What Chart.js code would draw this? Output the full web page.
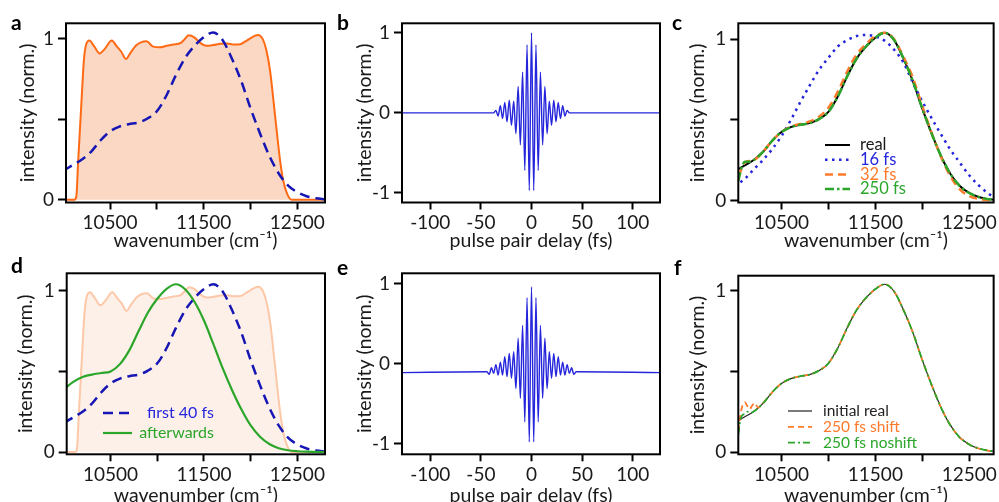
<!DOCTYPE html>
<html>
<head>
<meta charset="utf-8">
<script src="https://cdn.jsdelivr.net/npm/chart.js@4.4.1/dist/chart.umd.min.js"></script>
<style>
  body { margin: 0; width: 999px; height: 502px; overflow: hidden; background: #fff; position: relative; }
  canvas { position: absolute; }
</style>
</head>
<body>
<canvas id="chartA" width="333" height="251" style="left:0px;top:0px"></canvas>
<canvas id="chartB" width="333" height="251" style="left:333px;top:0px"></canvas>
<canvas id="chartC" width="333" height="251" style="left:666px;top:0px"></canvas>
<canvas id="chartD" width="333" height="251" style="left:0px;top:251px"></canvas>
<canvas id="chartE" width="333" height="251" style="left:333px;top:251px"></canvas>
<canvas id="chartF" width="333" height="251" style="left:666px;top:251px"></canvas>
<script>
// Laser spectrum (orange, panels a and d)
const laserWavenumber = [10000, 10120, 10140, 10160, 10180, 10200, 10220, 10245, 10280, 10330,
  10390, 10440, 10520, 10570, 10620, 10670, 10720, 10780, 10830, 10890,
  10960, 11030, 11105, 11180, 11250, 11300, 11340, 11400, 11460, 11530,
  11600, 11680, 11750, 11820, 11890, 11960, 12030, 12080, 12130, 12170,
  12210, 12245, 12280, 12315, 12350, 12390, 12440, 12800];
const laserIntensity = [0, 0, 0.02, 0.24, 0.45, 0.66, 0.86, 0.965, 0.99, 0.955,
  0.91, 0.935, 0.99, 0.955, 0.92, 0.875, 0.915, 0.96, 0.978, 0.985,
  0.952, 0.948, 0.957, 0.965, 0.973, 1.0, 1.022, 1.01, 0.977, 0.958,
  0.962, 0.97, 0.972, 0.965, 0.967, 0.99, 1.014, 1.025, 1.0, 0.93,
  0.80, 0.62, 0.43, 0.25, 0.12, 0.04, 0, 0];

// Real spectrum (blue dashed in a/d, black in c/f)
const realWavenumber = [10000, 10100, 10200, 10300, 10400, 10500, 10600, 10700, 10800, 10900,
  11000, 11100, 11200, 11300, 11400, 11500, 11600, 11700, 11800, 11900,
  12000, 12100, 12200, 12300, 12400, 12500, 12600, 12700, 12800];
const realIntensity = [0.18, 0.215, 0.25, 0.30, 0.37, 0.425, 0.455, 0.47, 0.48, 0.505,
  0.55, 0.645, 0.77, 0.88, 0.955, 1.01, 1.04, 0.995, 0.88, 0.74,
  0.57, 0.415, 0.275, 0.165, 0.09, 0.047, 0.022, 0.009, 0.003];

// Retrieved spectra (panel c)
const fit16Intensity = [0.09, 0.13, 0.19, 0.25, 0.318, 0.40, 0.50, 0.61, 0.713, 0.81,
  0.885, 0.955, 0.995, 1.02, 1.027, 1.018, 0.99, 0.935, 0.855, 0.73,
  0.615, 0.51, 0.41, 0.315, 0.235, 0.157, 0.095, 0.045, 0.01];
const fit32Wavenumber = [10040, 10070, 10110, 10160, 10220, 10300, 10400, 10500, 10600, 10700,
  10800, 10900, 11000, 11100, 11200, 11300, 11400, 11500, 11600, 11700,
  11800, 11900, 12000, 12100, 12200, 12300, 12400, 12500, 12600, 12700, 12800];
const fit32Intensity = [0.15, 0.19, 0.235, 0.245, 0.255, 0.30, 0.37, 0.425, 0.46, 0.475,
  0.49, 0.52, 0.575, 0.675, 0.80, 0.905, 0.97, 1.02, 1.04, 1.0,
  0.89, 0.76, 0.585, 0.42, 0.27, 0.15, 0.07, 0.028, 0.01, 0.003, 0.001];
const fit250Wavenumber = [10040, 10060, 10085, 10110, 10150, 10200, 10300, 10400, 10500, 10600,
  10700, 10800, 10900, 11000, 11100, 11200, 11300, 11400, 11500, 11600,
  11700, 11800, 11900, 12000, 12100, 12200, 12300, 12400, 12500, 12600, 12700, 12800];
const fit250Intensity = [0.12, 0.17, 0.22, 0.24, 0.24, 0.25, 0.30, 0.37, 0.425, 0.455,
  0.47, 0.48, 0.505, 0.55, 0.645, 0.77, 0.88, 0.955, 1.01, 1.04,
  0.995, 0.88, 0.74, 0.57, 0.415, 0.275, 0.165, 0.09, 0.047, 0.022, 0.009, 0.003];

// Spectrum after the first 40 fs (green, panel d)
const afterIntensity = [0.39, 0.435, 0.465, 0.48, 0.49, 0.50, 0.545, 0.63, 0.75, 0.865,
  0.95, 1.012, 1.04, 1.008, 0.93, 0.815, 0.67, 0.52, 0.385, 0.265,
  0.165, 0.095, 0.05, 0.024, 0.011, 0.005, 0.002, 0.001, 0];

// Panel f, shift / noshift retrievals
const shiftWavenumber = [10040, 10060, 10085, 10110, 10135, 10160, 10190, 10215, 10250, 10300,
  10400, 10500, 10600, 10700, 10800, 10900, 11000, 11100, 11200, 11300,
  11400, 11500, 11600, 11700, 11800, 11900, 12000, 12100, 12200, 12300,
  12400, 12500, 12600, 12700, 12800];
const shiftIntensity = [0.13, 0.22, 0.29, 0.31, 0.285, 0.265, 0.29, 0.305, 0.275, 0.30,
  0.37, 0.425, 0.455, 0.47, 0.48, 0.505, 0.55, 0.645, 0.77, 0.88,
  0.955, 1.01, 1.04, 0.995, 0.88, 0.74, 0.57, 0.415, 0.275, 0.165,
  0.09, 0.047, 0.022, 0.009, 0.003];
const noshiftWavenumber = [10040, 10060, 10085, 10110, 10140, 10170, 10200, 10300, 10400, 10500,
  10600, 10700, 10800, 10900, 11000, 11100, 11200, 11300, 11400, 11500,
  11600, 11700, 11800, 11900, 12000, 12100, 12200, 12300, 12400, 12500,
  12600, 12700, 12800];
const noshiftIntensity = [0.11, 0.19, 0.23, 0.235, 0.25, 0.245, 0.25, 0.30, 0.37, 0.425,
  0.455, 0.47, 0.48, 0.505, 0.55, 0.645, 0.77, 0.88, 0.955, 1.01,
  1.04, 0.995, 0.88, 0.74, 0.57, 0.415, 0.275, 0.165, 0.09, 0.047,
  0.022, 0.009, 0.003];

// Interferograms (panels b and e), one value per oscillation extremum
const delay = [-128, -44.0, -41.8, -39.6, -37.4, -35.2, -33.0, -30.8, -28.6, -26.4,
  -24.2, -22.0, -19.8, -17.6, -15.4, -13.2, -11.0, -8.8, -6.6, -4.4,
  -2.2, 0, 2.2, 4.4, 6.6, 8.8, 11.0, 13.2, 15.4, 17.6,
  19.8, 22.0, 24.2, 26.4, 28.6, 30.8, 33.0, 35.2, 37.4, 39.6,
  41.8, 44.0, 127];
const signalB = [0, 0, 0, 0, 0, 0.03, -0.04, 0.09, -0.07, 0.13,
  -0.11, 0.16, -0.155, 0.145, -0.26, 0.33, -0.40, 0.51, -0.72, 0.85,
  -0.97, 1.0, -0.97, 0.85, -0.72, 0.51, -0.40, 0.33, -0.26, 0.145,
  -0.155, 0.16, -0.11, 0.13, -0.07, 0.09, -0.04, 0.03, 0, 0,
  0, 0, 0];
const signalE = [-0.11, -0.10, -0.13, -0.05, -0.12, -0.01, -0.14, 0.02, -0.14, 0.09,
  -0.16, 0.13, -0.18, 0.15, -0.31, 0.32, -0.43, 0.48, -0.725, 0.825,
  -0.975, 0.96, -0.975, 0.825, -0.725, 0.48, -0.43, 0.32, -0.31, 0.15,
  -0.18, 0.13, -0.16, 0.09, -0.14, 0.02, -0.14, -0.01, -0.12, -0.05,
  -0.13, -0.10, -0.11];

// Ticks
const spectrumTicks = [10500, 11000, 11500, 12000, 12500];
const spectrumTickLabels = ['10500', '', '11500', '', '12500'];
const delayTicks = [-100, -50, 0, 50, 100];
const delayTickLabels = ['-100', '-50', '0', '50', '100'];
const intensityTicks = [0, 0.5, 1];
const intensityTickLabels = ['0', '', '1'];
const signalTicks = [-1, 0, 1];
const signalTickLabels = ['-1', '0', '1'];

const FONT = 'Lato';
const TEXT = '#1a1a1a';
Chart.defaults.font.family = FONT;
Chart.defaults.color = TEXT;

function points(xs, ys) {
  return xs.map((x, i) => ({ x: x, y: ys[i] }));
}

// Black box around the plot area
const framePlugin = {
  id: 'frame',
  afterDatasetsDraw(chart) {
    const ctx = chart.ctx, a = chart.chartArea;
    ctx.save();
    ctx.strokeStyle = '#000';
    ctx.lineWidth = 2;
    ctx.strokeRect(a.left, a.top, a.right - a.left, a.bottom - a.top);
    ctx.restore();
  }
};

// Panel letter and legend drawn inside the plot
const panelPlugin = {
  id: 'panel',
  afterDraw(chart, args, opts) {
    const ctx = chart.ctx;
    ctx.save();
    ctx.fillStyle = '#000';
    ctx.font = 'bold 21px ' + FONT;
    ctx.textBaseline = 'alphabetic';
    ctx.textAlign = 'left';
    ctx.fillText(opts.letter, opts.letterX, opts.letterY);
    if (opts.legend) {
      const lg = opts.legend;
      ctx.font = lg.size + 'px ' + FONT;
      ctx.textBaseline = 'middle';
      lg.items.forEach((idx, i) => {
        const ds = chart.data.datasets[idx];
        const y = lg.y + i * lg.rowGap;
        ctx.strokeStyle = ds.borderColor;
        ctx.lineWidth = ds.borderWidth;
        ctx.setLineDash(ds.borderDash || []);
        ctx.beginPath();
        ctx.moveTo(lg.x, y);
        ctx.lineTo(lg.x + lg.lineLength, y);
        ctx.stroke();
        ctx.setLineDash([]);
        ctx.fillStyle = ds.textColor || ds.borderColor;
        ctx.textAlign = lg.align;
        ctx.fillText(ds.label, lg.textX, y);
      });
    }
    ctx.restore();
  }
};

function makeChart(id, datasets, p) {
  const tickFont = { family: FONT, size: 19 };
  const titleFont = { family: FONT, size: 19.5, lineHeight: 1 };
  return new Chart(document.getElementById(id), {
    type: 'line',
    data: { datasets: datasets },
    options: {
      responsive: false,
      animation: false,
      devicePixelRatio: 1,
      layout: { padding: { top: p.top, right: p.right, bottom: 0, left: 0 } },
      elements: { point: { radius: 0 }, line: { cubicInterpolationMode: 'monotone' } },
      scales: {
        x: {
          type: 'linear', min: p.xMin, max: p.xMax,
          afterFit: s => { s.height = p.xAxisHeight; },
          afterBuildTicks: s => { s.ticks = p.xTicks.map(v => ({ value: v })); },
          border: { display: false },
          grid: { drawOnChartArea: false, drawTicks: true, tickLength: 7, tickWidth: 2, tickColor: '#000' },
          ticks: { font: tickFont, color: TEXT, padding: 2, autoSkip: false, maxRotation: 0,
            callback: (v, i) => p.xLabels[i] },
          title: { display: true, text: p.xTitle, font: titleFont, color: TEXT,
            padding: { top: 0, bottom: p.xTitlePad } }
        },
        y: {
          type: 'linear', min: p.yMin, max: p.yMax,
          afterFit: s => { s.width = p.yAxisWidth; },
          afterBuildTicks: s => { s.ticks = p.yTicks.map(v => ({ value: v })); },
          border: { display: false },
          grid: { drawOnChartArea: false, drawTicks: true, tickLength: 8, tickWidth: 2, tickColor: '#000' },
          ticks: { font: tickFont, color: TEXT, padding: 4, autoSkip: false,
            callback: (v, i) => p.yLabels[i] },
          title: { display: true, text: 'intensity (norm.)', font: titleFont, color: TEXT,
            padding: { top: p.yTitlePad, bottom: 0 } }
        }
      },
      plugins: {
        legend: { display: false },
        tooltip: { enabled: false },
        panel: { letter: p.letter, letterX: p.letterX, letterY: p.letterY, legend: p.legend }
      }
    },
    plugins: [framePlugin, panelPlugin]
  });
}

const ORANGE = '#ff6a14';
const BLUE_DARK = '#1616b4';
const BLUE = '#2525dc';
const GREEN = '#2ba62b';
const WN = 'wavenumber (cm\u207B\u00B9)';

// a
makeChart('chartA', [
  { label: 'laser', data: points(laserWavenumber, laserIntensity), borderColor: ORANGE, borderWidth: 2,
    backgroundColor: '#fbd8c3', fill: 'origin', order: 2 },
  { label: 'real', data: points(realWavenumber, realIntensity), borderColor: BLUE_DARK, borderWidth: 2.5,
    borderDash: [10, 6], order: 1 }
], { top: 23.3, right: 8, yAxisWidth: 66, xAxisHeight: 48.5, xMin: 10030, xMax: 12796, yMin: -0.017, yMax: 1.097,
  xTicks: spectrumTicks, xLabels: spectrumTickLabels, yTicks: intensityTicks, yLabels: intensityTickLabels,
  xTitle: WN, xTitlePad: 1, yTitlePad: 17.5, letter: 'a', letterX: 11, letterY: 30 });

// b
makeChart('chartB', [
  { label: 'interferogram', data: points(delay, signalB), borderColor: BLUE, borderWidth: 1.4 }
], { top: 23.3, right: 6, yAxisWidth: 69, xAxisHeight: 48.5, xMin: -128, xMax: 127, yMin: -1.12, yMax: 1.12,
  xTicks: delayTicks, xLabels: delayTickLabels, yTicks: signalTicks, yLabels: signalTickLabels,
  xTitle: 'pulse pair delay (fs)', xTitlePad: 1, yTitlePad: 22, letter: 'b', letterX: 4, letterY: 30 });

// c
makeChart('chartC', [
  { label: 'real', data: points(realWavenumber, realIntensity), borderColor: '#000', borderWidth: 2, textColor: TEXT, order: 4 },
  { label: '16 fs', data: points(realWavenumber, fit16Intensity), borderColor: BLUE, borderWidth: 2.5,
    borderDash: [2.5, 4.5], order: 3 },
  { label: '32 fs', data: points(fit32Wavenumber, fit32Intensity), borderColor: '#ff7a2a', borderWidth: 2.5,
    borderDash: [8, 5], order: 2 },
  { label: '250 fs', data: points(fit250Wavenumber, fit250Intensity), borderColor: GREEN, borderWidth: 2.5,
    borderDash: [9, 3, 2.5, 3], order: 1 }
], { top: 23.3, right: 2.3, yAxisWidth: 72.3, xAxisHeight: 48.5, xMin: 10040, xMax: 12760, yMin: -0.012, yMax: 1.099,
  xTicks: spectrumTicks, xLabels: spectrumTickLabels, yTicks: intensityTicks, yLabels: intensityTickLabels,
  xTitle: WN, xTitlePad: 1, yTitlePad: 22, letter: 'c', letterX: 6, letterY: 30,
  legend: { items: [0, 1, 2, 3], x: 159, y: 145, rowGap: 14.7, lineLength: 25, textX: 194, align: 'left', size: 16.5 } });

// d
makeChart('chartD', [
  { label: 'laser', data: points(laserWavenumber, laserIntensity), borderColor: '#fcc8a8', borderWidth: 2,
    backgroundColor: '#fdf0e8', fill: 'origin', order: 3 },
  { label: 'first 40 fs', data: points(realWavenumber, realIntensity), borderColor: BLUE_DARK, borderWidth: 2.5,
    borderDash: [10, 6], textColor: BLUE, order: 2 },
  { label: 'afterwards', data: points(realWavenumber, afterIntensity), borderColor: GREEN, borderWidth: 2.2, order: 1 }
], { top: 22.3, right: 8, yAxisWidth: 66.7, xAxisHeight: 47.7, xMin: 10030, xMax: 12796, yMin: -0.014, yMax: 1.108,
  xTicks: spectrumTicks, xLabels: spectrumTickLabels, yTicks: intensityTicks, yLabels: intensityTickLabels,
  xTitle: WN, xTitlePad: -3, yTitlePad: 16, letter: 'd', letterX: 11, letterY: 22,
  legend: { items: [1, 2], x: 103, y: 162, rowGap: 20, lineLength: 29, textX: 214, align: 'right', size: 16 } });

// e
makeChart('chartE', [
  { label: 'interferogram', data: points(delay, signalE), borderColor: BLUE, borderWidth: 1.4 }
], { top: 22.3, right: 6, yAxisWidth: 69, xAxisHeight: 47.7, xMin: -128, xMax: 127, yMin: -1.13, yMax: 1.13,
  xTicks: delayTicks, xLabels: delayTickLabels, yTicks: signalTicks, yLabels: signalTickLabels,
  xTitle: 'pulse pair delay (fs)', xTitlePad: -3, yTitlePad: 22, letter: 'e', letterX: 4, letterY: 24 });

// f
makeChart('chartF', [
  { label: 'initial real', data: points(realWavenumber, realIntensity), borderColor: '#222', borderWidth: 1.2, order: 3 },
  { label: '250 fs shift', data: points(shiftWavenumber, shiftIntensity), borderColor: '#ff7a2a', borderWidth: 1.8,
    borderDash: [6, 4], order: 2 },
  { label: '250 fs noshift', data: points(noshiftWavenumber, noshiftIntensity), borderColor: GREEN, borderWidth: 1.8,
    borderDash: [7, 3, 2, 3], order: 1 }
], { top: 24.7, right: 2.3, yAxisWidth: 72.3, xAxisHeight: 47.7, xMin: 10040, xMax: 12760, yMin: -0.014, yMax: 1.093,
  xTicks: spectrumTicks, xLabels: spectrumTickLabels, yTicks: intensityTicks, yLabels: intensityTickLabels,
  xTitle: WN, xTitlePad: -3, yTitlePad: 22, letter: 'f', letterX: 8, letterY: 24,
  legend: { items: [0, 1, 2], x: 122, y: 160, rowGap: 15.8, lineLength: 24, textX: 157, align: 'left', size: 15.5 } });
</script>
</body>
</html>
